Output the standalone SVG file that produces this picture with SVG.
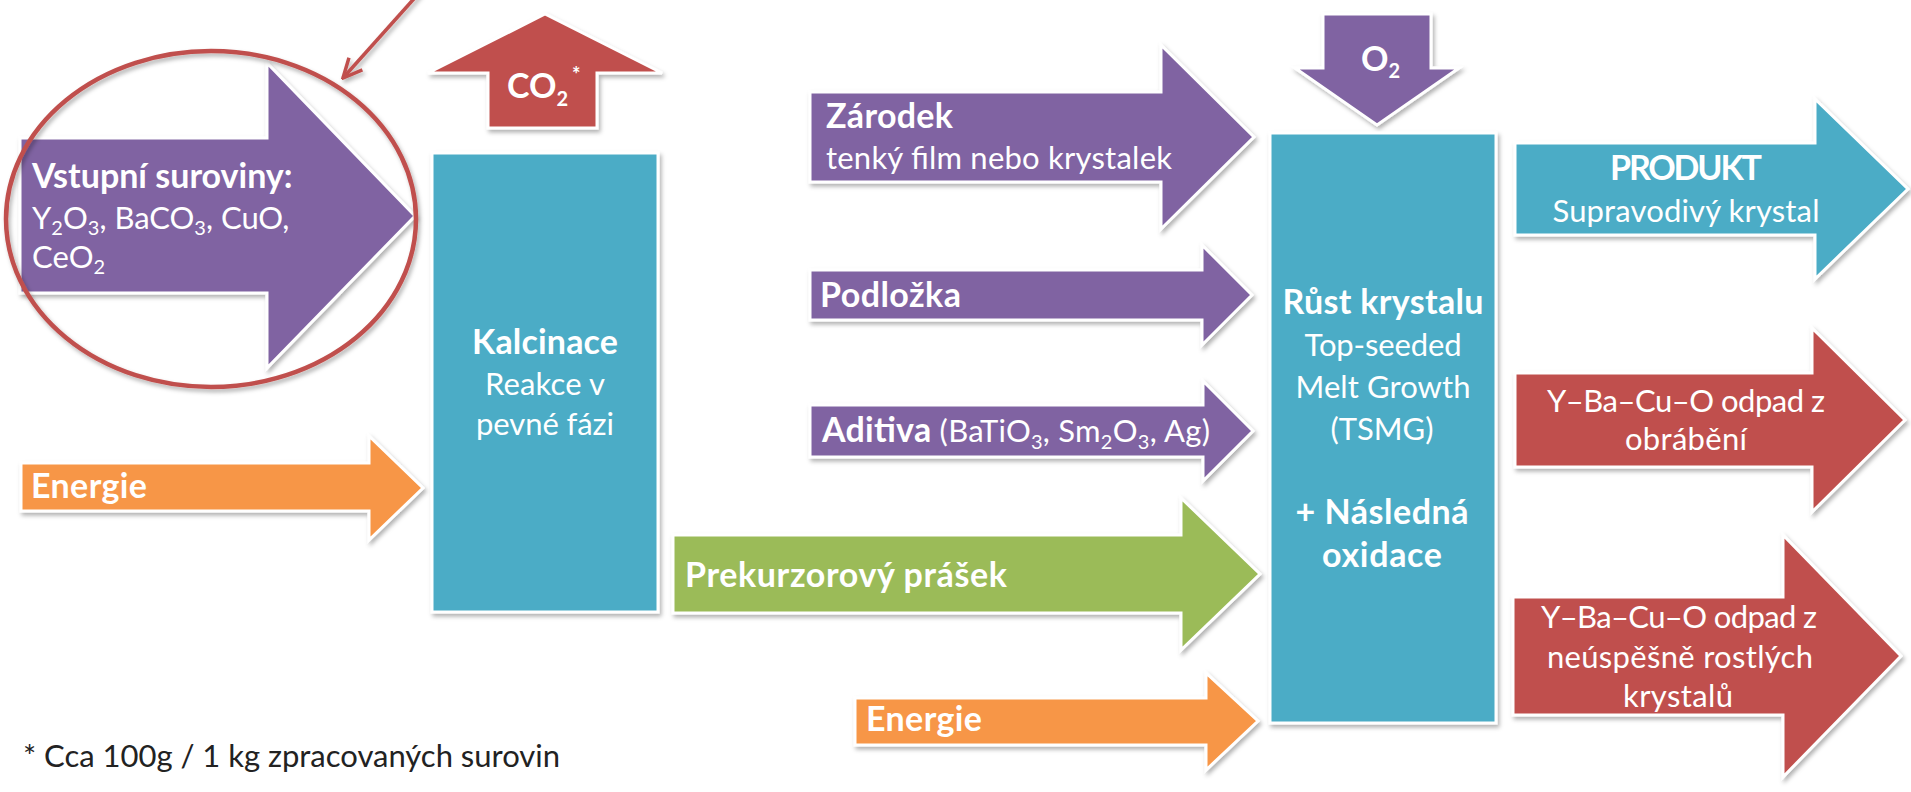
<svg xmlns="http://www.w3.org/2000/svg" width="1911" height="792" viewBox="0 0 1911 792">
<defs>
<filter id="sh" x="-10%" y="-10%" width="125%" height="130%">
<feDropShadow dx="2" dy="3" stdDeviation="2" flood-color="#000" flood-opacity="0.3"/>
</filter>
<marker id="ah" viewBox="0 0 24 24" markerWidth="24" markerHeight="24" refX="22" refY="12" orient="auto" markerUnits="userSpaceOnUse">
<path d="M3,3 L22,12 L3,21" fill="none" stroke="#c0504d" stroke-width="3.5" stroke-linejoin="miter"/>
</marker>
<style>
.sh{stroke:#fff;stroke-width:3;filter:url(#sh)}
.pur{fill:#8064a2}
.blu{fill:#4bacc6}
.red{fill:#c0504d}
.org{fill:#f79646}
.grn{fill:#9bbb59}
text{font-family:Lato,"Liberation Sans",sans-serif;font-size:31px;fill:#fff}
.b{font-weight:bold;font-size:34px}
.c{text-anchor:middle}
.sub{font-size:20px}
.note{fill:#222}
</style>
</defs>

<g id="vstupni">
<polygon class="sh pur" points="20,138 267,138 267,63 415,216 267,368 267,293 20,293"/>
<text x="32" y="188"><tspan class="b">Vstupní suroviny:</tspan><tspan x="32" y="229">Y</tspan><tspan class="sub" dy="6">2</tspan><tspan dy="-6">O</tspan><tspan class="sub" dy="6">3</tspan><tspan dy="-6">, BaCO</tspan><tspan class="sub" dy="6">3</tspan><tspan dy="-6">, CuO,</tspan><tspan x="32" y="268">CeO</tspan><tspan class="sub" dy="6">2</tspan></text>
</g>

<g id="energie1">
<polygon class="sh org" points="21,463 369,463 369,436 423,488 369,540 369,511 21,511"/>
<text x="31" y="498" class="b" textLength="116">Energie</text>
</g>

<g id="co2">
<polygon class="sh red" points="488,128 488,73 428,73 545,14 662,73 597,73 597,128"/>
<text x="507" y="98" class="b">CO<tspan class="sub" dy="8">2</tspan><tspan class="sub" dx="4" dy="-24">*</tspan></text>
</g>

<g id="kalcinace">
<rect class="sh blu" x="432" y="153" width="226" height="459"/>
<text x="545" y="354" class="b c" textLength="146">Kalcinace</text>
<text x="545" y="395" class="c" textLength="120">Reakce v</text>
<text x="545" y="435" class="c" textLength="138">pevné fázi</text>
</g>

<g id="zarodek">
<polygon class="sh pur" points="810,92 1161,92 1161,45 1254,137 1161,229 1161,182 810,182"/>
<text x="826" y="128" class="b" textLength="127">Zárodek</text>
<text x="826" y="169" textLength="346">tenký film nebo krystalek</text>
</g>

<g id="podlozka">
<polygon class="sh pur" points="810,270 1202,270 1202,245 1252,295 1202,345 1202,320 810,320"/>
<text x="820" y="307" class="b" textLength="141">Podložka</text>
</g>

<g id="aditiva">
<polygon class="sh pur" points="810,405 1203,405 1203,381 1253,431 1203,481 1203,457 810,457"/>
<text x="822" y="442" textLength="388"><tspan class="b">Aditiva</tspan> (BaTiO<tspan class="sub" dy="7">3</tspan><tspan dy="-7">, Sm</tspan><tspan class="sub" dy="7">2</tspan><tspan dy="-7">O</tspan><tspan class="sub" dy="7">3</tspan><tspan dy="-7">, Ag)</tspan></text>
</g>

<g id="prekurzor">
<polygon class="sh grn" points="673,535 1181,535 1181,498 1260,574 1181,650 1181,613 673,613"/>
<text x="685" y="587" class="b" textLength="322">Prekurzorový prášek</text>
</g>

<g id="energie2">
<polygon class="sh org" points="855,698 1206,698 1206,673 1258,721 1206,770 1206,745 855,745"/>
<text x="866" y="731" class="b" textLength="116">Energie</text>
</g>

<g id="o2">
<polygon class="sh pur" points="1323,14 1431,14 1431,68 1459,68 1377,125 1295,68 1323,68"/>
<text x="1361" y="71" class="b">O<tspan class="sub" dy="7">2</tspan></text>
</g>

<g id="rust">
<rect class="sh blu" x="1270" y="133" width="226" height="590"/>
<text x="1383" y="314" class="b c" textLength="201">Růst krystalu</text>
<text x="1383" y="356" class="c" textLength="157">Top-seeded</text>
<text x="1383" y="398" class="c" textLength="175">Melt Growth</text>
<text x="1382" y="440" class="c" textLength="103">(TSMG)</text>
<text x="1382" y="524" class="b c" textLength="173">+ Následná</text>
<text x="1382" y="567" class="b c" textLength="120">oxidace</text>
</g>

<g id="produkt">
<polygon class="sh blu" points="1515,143 1815,143 1815,99 1908,189 1815,279 1815,235 1515,235"/>
<text x="1686" y="180" class="b c" textLength="152">PRODUKT</text>
<text x="1686" y="222" class="c" textLength="267">Supravodivý krystal</text>
</g>

<g id="odpad1">
<polygon class="sh red" points="1515,373 1812,373 1812,328 1905,420 1812,512 1812,467 1515,467"/>
<text x="1686" y="412" class="c" textLength="278">Y–Ba–Cu–O odpad z</text>
<text x="1686" y="450" class="c" textLength="122">obrábění</text>
</g>

<g id="odpad2">
<polygon class="sh red" points="1513,597 1783,597 1783,535 1901,656 1783,777 1783,715 1513,715"/>
<text x="1679" y="628" class="c" textLength="276">Y–Ba–Cu–O odpad z</text>
<text x="1680" y="668" class="c" textLength="266">neúspěšně rostlých</text>
<text x="1678" y="707" class="c" textLength="110">krystalů</text>
</g>

<g id="footnote">
<text x="23" y="767" class="note" textLength="537">* Cca 100g / 1 kg zpracovaných surovin</text>
</g>

<g id="connectors">
<ellipse cx="211" cy="219" rx="205" ry="168" fill="none" stroke="#c0504d" stroke-width="4.5" filter="url(#sh)"/>
<line x1="420" y1="-8" x2="343" y2="78" stroke="#c0504d" stroke-width="3.5" marker-end="url(#ah)" filter="url(#sh)"/>
</g>
</svg>
